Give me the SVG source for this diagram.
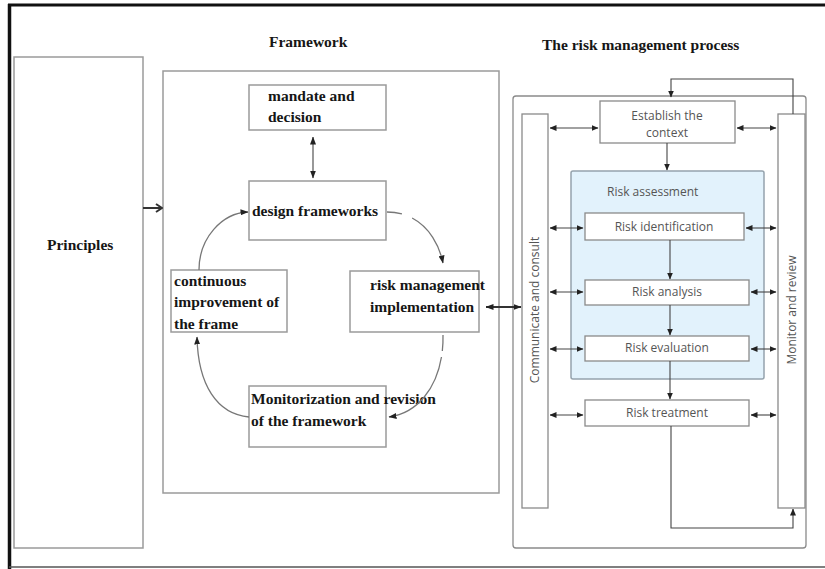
<svg xmlns="http://www.w3.org/2000/svg" width="825" height="569" viewBox="0 0 825 569">
  <style>
    .frame { fill: none; stroke: #111; }
    .box { fill: #fff; stroke: #9a9a9a; stroke-width: 1.5; }
    .pbox { fill: #fff; stroke: #8a8a8a; stroke-width: 1.3; }
    .serif { font-family: "Liberation Serif", "Times New Roman", serif; font-weight: bold; font-size: 15.5px; fill: #161616; }
    .sans { font-family: "Open Sans", "Liberation Sans", Arial, sans-serif; font-size: 12px; fill: #555; }
    .mid { text-anchor: middle; }
    .curve { fill: none; stroke: #777; stroke-width: 1.3; }
    .link { fill: none; stroke: #444; stroke-width: 1.1; }
  </style>
  <defs>
    <marker id="tri" viewBox="0 0 8 6" refX="7.5" refY="3" markerWidth="8" markerHeight="6" markerUnits="userSpaceOnUse" orient="auto-start-reverse">
      <path d="M0,0 L8,3 L0,6 z" fill="#222"/>
    </marker>
    <marker id="triS" viewBox="0 0 7 6" refX="6.5" refY="3" markerWidth="7" markerHeight="6" markerUnits="userSpaceOnUse" orient="auto-start-reverse">
      <path d="M0,0 L7,3 L0,6 z" fill="#222"/>
    </marker>
    <marker id="open" viewBox="0 0 10 10" refX="9" refY="5" markerWidth="10" markerHeight="10" markerUnits="userSpaceOnUse" orient="auto">
      <path d="M3,1 L9,5 L3,9" fill="none" stroke="#333" stroke-width="2"/>
    </marker>
  </defs>

  <!-- page frame -->
  <line class="frame" x1="9.5" y1="4" x2="9.5" y2="569" stroke-width="3.5"/>
  <line class="frame" x1="8" y1="5" x2="825" y2="5" stroke-width="3"/>
  <line x1="9" y1="567" x2="825" y2="567" stroke="#555" stroke-width="1.5"/>

  <!-- section titles -->
  <text class="serif" x="269" y="47">Framework</text>
  <text class="serif" x="542" y="50">The risk management process</text>

  <g id="principles">
    <rect class="box" x="14" y="57" width="129" height="491"/>
    <text class="serif" x="47" y="250">Principles</text>
  </g>

  <g id="framework">
    <rect class="box" x="163" y="71" width="336" height="422"/>
  </g>

  <g id="mandate">
    <rect class="box" x="249" y="85" width="137" height="45"/>
    <text class="serif" x="268" y="101">mandate and</text>
    <text class="serif" x="268" y="122">decision</text>
  </g>

  <g id="design">
    <rect class="box" x="249" y="181" width="137" height="59"/>
    <text class="serif" x="252" y="216">design frameworks</text>
  </g>

  <g id="improvement">
    <rect class="box" x="171" y="270" width="116" height="62"/>
    <text class="serif" x="174" y="286">continuous</text>
    <text class="serif" x="174" y="307">improvement of</text>
    <text class="serif" x="174" y="329">the frame</text>
  </g>

  <g id="implementation">
    <rect class="box" x="350" y="271" width="129" height="61"/>
    <text class="serif" x="370" y="290">risk management</text>
    <text class="serif" x="370" y="312">implementation</text>
  </g>

  <g id="monitorization">
    <rect class="box" x="249" y="386" width="137" height="61"/>
    <text class="serif" x="251" y="404">Monitorization and revision</text>
    <text class="serif" x="251" y="426">of the framework</text>
  </g>

  <g id="process">
    <rect class="pbox" x="513" y="96" width="293" height="452" rx="3"/>
  </g>

  <g id="communicate">
    <rect class="pbox" x="522" y="114" width="26" height="394"/>
    <text class="sans mid" transform="translate(539,310) rotate(-90)">Communicate and consult</text>
  </g>

  <g id="monitor">
    <rect class="pbox" x="778" y="114" width="27" height="394"/>
    <text class="sans mid" transform="translate(796,310) rotate(-90)">Monitor and review</text>
  </g>

  <g id="context">
    <rect class="pbox" x="600" y="101" width="135" height="42"/>
    <text class="sans mid" x="667" y="120">Establish the</text>
    <text class="sans mid" x="667" y="137">context</text>
  </g>

  <g id="assessment">
    <rect x="571" y="171" width="193" height="208" rx="2" fill="#e2f2fc" stroke="#95a3ad" stroke-width="1.5"/>
    <text class="sans" x="607" y="196">Risk assessment</text>
  </g>

  <g id="identification">
    <rect class="pbox" x="585" y="213" width="159" height="27"/>
    <text class="sans mid" x="664" y="231">Risk identification</text>
  </g>

  <g id="analysis">
    <rect class="pbox" x="585" y="280" width="164" height="25"/>
    <text class="sans mid" x="667" y="296">Risk analysis</text>
  </g>

  <g id="evaluation">
    <rect class="pbox" x="585" y="336" width="164" height="25"/>
    <text class="sans mid" x="667" y="352">Risk evaluation</text>
  </g>

  <g id="treatment">
    <rect class="pbox" x="585" y="400" width="164" height="26"/>
    <text class="sans mid" x="667" y="417">Risk treatment</text>
  </g>

  <g id="connectors">
    <!-- framework side -->
    <line x1="143" y1="208" x2="162" y2="208" stroke="#333" stroke-width="2" marker-end="url(#open)"/>
    <line class="link" x1="313" y1="137" x2="313" y2="178" marker-start="url(#tri)" marker-end="url(#tri)"/>
    <path class="curve" d="M387,212 C420,212 438,238 443,263" stroke-dasharray="15 11 300" marker-end="url(#tri)"/>
    <path class="curve" d="M443,335 C444,375 425,412 389,417" stroke-dasharray="16 6 300" marker-end="url(#tri)"/>
    <path class="curve" d="M249,417 C217,414 198,385 197,337" marker-end="url(#tri)"/>
    <path class="curve" d="M199,270 C199,238 222,213 248,212" marker-end="url(#tri)"/>
    <line x1="486" y1="307" x2="521" y2="307" stroke="#333" stroke-width="1.8" marker-start="url(#tri)" marker-end="url(#tri)"/>

    <!-- process side -->
    <polyline class="link" points="793,114 793,79 671,79 671,97" marker-end="url(#triS)"/>
    <line class="link" x1="667" y1="143" x2="667" y2="170" marker-end="url(#triS)"/>
    <line class="link" x1="670" y1="240" x2="670" y2="279" marker-end="url(#triS)"/>
    <line class="link" x1="670" y1="305" x2="670" y2="335" marker-end="url(#triS)"/>
    <line class="link" x1="670" y1="361" x2="670" y2="399" marker-end="url(#triS)"/>
    <polyline class="link" points="671,426 671,528 793,528 793,509" marker-end="url(#triS)"/>

    <line class="link" x1="550" y1="128" x2="598" y2="128" marker-start="url(#triS)" marker-end="url(#triS)"/>
    <line class="link" x1="737" y1="128" x2="776" y2="128" marker-start="url(#triS)" marker-end="url(#triS)"/>
    <line class="link" x1="550" y1="228" x2="583" y2="228" marker-start="url(#triS)" marker-end="url(#triS)"/>
    <line class="link" x1="746" y1="228" x2="776" y2="228" marker-start="url(#triS)" marker-end="url(#triS)"/>
    <line class="link" x1="550" y1="292" x2="583" y2="292" marker-start="url(#triS)" marker-end="url(#triS)"/>
    <line class="link" x1="751" y1="292" x2="776" y2="292" marker-start="url(#triS)" marker-end="url(#triS)"/>
    <line class="link" x1="550" y1="349" x2="583" y2="349" marker-start="url(#triS)" marker-end="url(#triS)"/>
    <line class="link" x1="751" y1="349" x2="776" y2="349" marker-start="url(#triS)" marker-end="url(#triS)"/>
    <line class="link" x1="550" y1="415" x2="583" y2="415" marker-start="url(#triS)" marker-end="url(#triS)"/>
    <line class="link" x1="751" y1="415" x2="776" y2="415" marker-start="url(#triS)" marker-end="url(#triS)"/>
  </g>
</svg>
